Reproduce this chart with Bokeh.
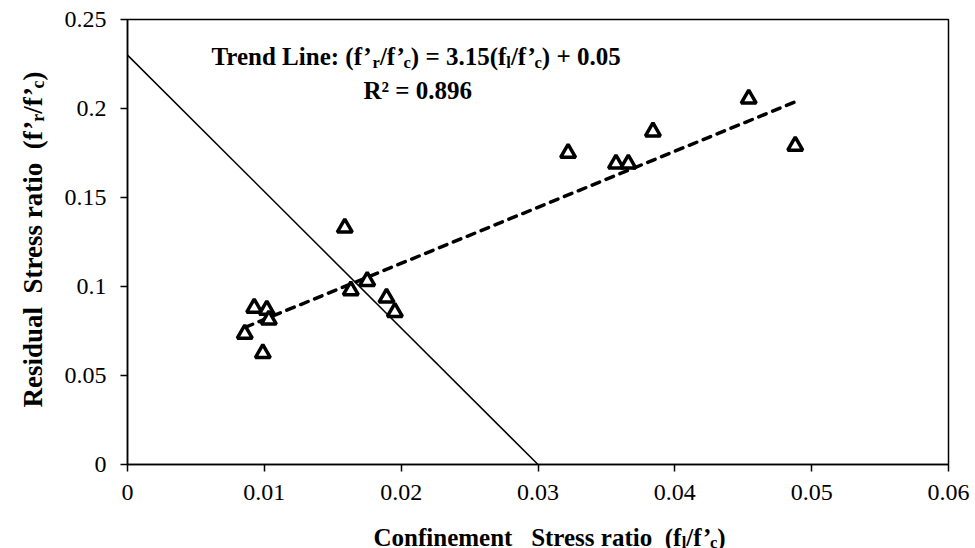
from bokeh.plotting import figure
from bokeh.models import Range1d, FixedTicker, Label
from bokeh.layouts import row, column
from bokeh.embed import file_html
from bokeh.resources import INLINE
import math

# Confinement stress ratio (fl/f'c) and residual stress ratio (f'r/f'c) per specimen
confinement_ratio = [0.00857, 0.00926, 0.00989, 0.01018, 0.01033,
                     0.01588, 0.01632, 0.01752, 0.01893, 0.01954,
                     0.0322, 0.0357, 0.0366, 0.0384, 0.0454, 0.0488]
residual_ratio = [0.0734, 0.0880, 0.0625, 0.0869, 0.0813,
                  0.1330, 0.0978, 0.1030, 0.0937, 0.0856,
                  0.175, 0.169, 0.169, 0.187, 0.2055, 0.179]

# Linear trend fitted to the data
trend_slope = 3.15
trend_intercept = 0.05
trend_r2 = 0.896
trend_x = [0.0086, 0.0488]

# Solid limit line
limit_x = [0.0, 0.03]
limit_y = [0.23, 0.0]

x_ticks = [0, 0.01, 0.02, 0.03, 0.04, 0.05, 0.06]
x_tick_labels = ["0", "0.01", "0.02", "0.03", "0.04", "0.05", "0.06"]
y_ticks = [0, 0.05, 0.1, 0.15, 0.2, 0.25]
y_tick_labels = ["0", "0.05", "0.1", "0.15", "0.2", "0.25"]

X_MIN, X_MAX = 0.0, 0.06
Y_MIN, Y_MAX = 0.0, 0.25

W, H = 975, 548
YTITLE_W = 50          # strip at the left holding the y-axis title
XTITLE_H = 37          # strip at the bottom holding the x-axis title
LEFT, RIGHT, TOP, BOTTOM = 127, 948, 19, 464   # plot frame edges (page pixels)
FONT = "Liberation Serif"
NB = "\u00a0"          # non-collapsing space

main_w = W - YTITLE_W
main_h = H - XTITLE_H

p = figure(width=main_w, height=main_h, output_backend="svg", toolbar_location=None,
           title=None,
           x_range=Range1d(X_MIN, X_MAX), y_range=Range1d(Y_MIN, Y_MAX),
           min_border_left=LEFT - YTITLE_W, min_border_right=W - RIGHT,
           min_border_top=TOP, min_border_bottom=main_h - BOTTOM)
p.background_fill_color = "white"
p.border_fill_color = "white"
p.outline_line_color = "black"
p.outline_line_width = 1.5
p.xgrid.visible = False
p.ygrid.visible = False

for ax, ticks, labels, standoff in ((p.xaxis, x_ticks, x_tick_labels, 13),
                                    (p.yaxis, y_ticks, y_tick_labels, 14)):
    ax.ticker = FixedTicker(ticks=ticks)
    ax.major_label_overrides = {t: l for t, l in zip(ticks, labels)}
    ax.axis_line_color = "black"
    ax.axis_line_width = 1.5
    ax.major_tick_line_color = "black"
    ax.major_tick_line_width = 1.5
    ax.major_tick_out = 7
    ax.major_tick_in = 0
    ax.minor_tick_line_color = None
    ax.major_label_text_font = FONT
    ax.major_label_text_font_size = "24px"
    ax.major_label_text_color = "black"
    ax.major_label_standoff = standoff

# limit line
p.line(limit_x, limit_y, line_color="black", line_width=1.5)

# dashed trend line
trend_y = [trend_slope * x + trend_intercept for x in trend_x]
p.line(trend_x, trend_y, line_color="black", line_width=3.5,
       line_dash="8 7", line_cap="round")

# specimens
p.scatter(confinement_ratio, residual_ratio, marker="triangle", size=15,
          fill_color="white", line_color="black", line_width=3.5)


def blank_strip(width, height, left, right, top, bottom, x0, x1, y0, y1):
    """A figure with no axes or title whose data coordinates are page pixels."""
    f = figure(width=width, height=height, output_backend="svg", toolbar_location=None,
               title=None,
               x_range=Range1d(x0, x1), y_range=Range1d(y1, y0),
               x_axis_location=None, y_axis_location=None,
               min_border_left=left, min_border_right=right,
               min_border_top=top, min_border_bottom=bottom,
               outline_line_color=None)
    f.background_fill_color = "white"
    f.border_fill_color = "white"
    f.xgrid.visible = False
    f.ygrid.visible = False
    return f


# y-title strip: frame spans page x 0..50 and y TOP..BOTTOM
ytitle = blank_strip(YTITLE_W, H, 0, 0, TOP, H - BOTTOM, 0, YTITLE_W, TOP, BOTTOM)
# x-title strip: frame spans page x LEFT..RIGHT and y main_h..H
xtitle = blank_strip(main_w, XTITLE_H, LEFT - YTITLE_W, W - RIGHT, 0, 0,
                     LEFT, RIGHT, main_h, H)

# --- text made of runs (normal + subscript pieces) ---
BOLD_W = {' ': 250, NB: 250, '(': 333, ')': 333, '+': 570, '.': 250, '/': 278,
          ':': 333, '=': 570, '\u2019': 333, '\u00b2': 300, 'C': 722, 'L': 667,
          'R': 722, 'S': 556, 'T': 667, 'a': 500, 'c': 444, 'd': 556, 'e': 444,
          'f': 333, 'i': 278, 'l': 278, 'm': 833, 'n': 556, 'o': 500, 'r': 444,
          's': 389, 't': 333, 'u': 556}


def text_width(s, size):
    return sum(BOLD_W.get(ch, 500) for ch in s) / 1000.0 * size


def main_x(px):
    return X_MIN + (px - LEFT) / (RIGHT - LEFT) * (X_MAX - X_MIN)


def main_y(py):
    return Y_MIN + (BOTTOM - py) / (BOTTOM - TOP) * (Y_MAX - Y_MIN)


def same(v):
    return v


def place_runs(fig, conv_x, conv_y, runs, px, py, size, vertical=False,
               sub_scale=0.66, sub_drop=0.22):
    pos = 0.0
    for txt, kind in runs:
        s = size * sub_scale if kind == "sub" else size
        drop = size * sub_drop if kind == "sub" else 0.0
        if vertical:
            x_px, y_px, ang = px + drop, py - pos, math.pi / 2
        else:
            x_px, y_px, ang = px + pos, py + drop, 0.0
        fig.add_layout(Label(x=conv_x(x_px), y=conv_y(y_px), text=txt, angle=ang,
                             text_font=FONT, text_font_size=f"{s:.1f}px",
                             text_font_style="bold", text_color="black",
                             text_align="left", text_baseline="alphabetic"))
        pos += text_width(txt, s)


# trend line equation
place_runs(p, main_x, main_y,
           [("Trend Line: (f\u2019", "n"), ("r", "sub"), ("/f\u2019", "n"), ("c", "sub"),
            (f") = {trend_slope:.2f}(f", "n"), ("l", "sub"), ("/f\u2019", "n"), ("c", "sub"),
            (f") + {trend_intercept:.2f}", "n")], 211, 56, 25)
place_runs(p, main_x, main_y, [(f"R\u00b2 = {trend_r2:.3f}", "n")], 363, 90, 25)

# axis titles
place_runs(xtitle, same, same,
           [(f"Confinement{NB * 3}Stress ratio{NB * 2}(f", "n"), ("l", "sub"),
            ("/f\u2019", "n"), ("c", "sub"), (")", "n")], 373, 537, 25, sub_drop=0.19)
place_runs(ytitle, same, same,
           [(f"Residual{NB * 2}Stress ratio{NB * 2}(f\u2019", "n"), ("r", "sub"),
            ("/f\u2019", "n"), ("c", "sub"), (")", "n")], 32, 407, 27, vertical=True)

page = row(ytitle, column(p, xtitle, spacing=0), spacing=0)

open("out.html", "w").write(file_html(page, INLINE))
